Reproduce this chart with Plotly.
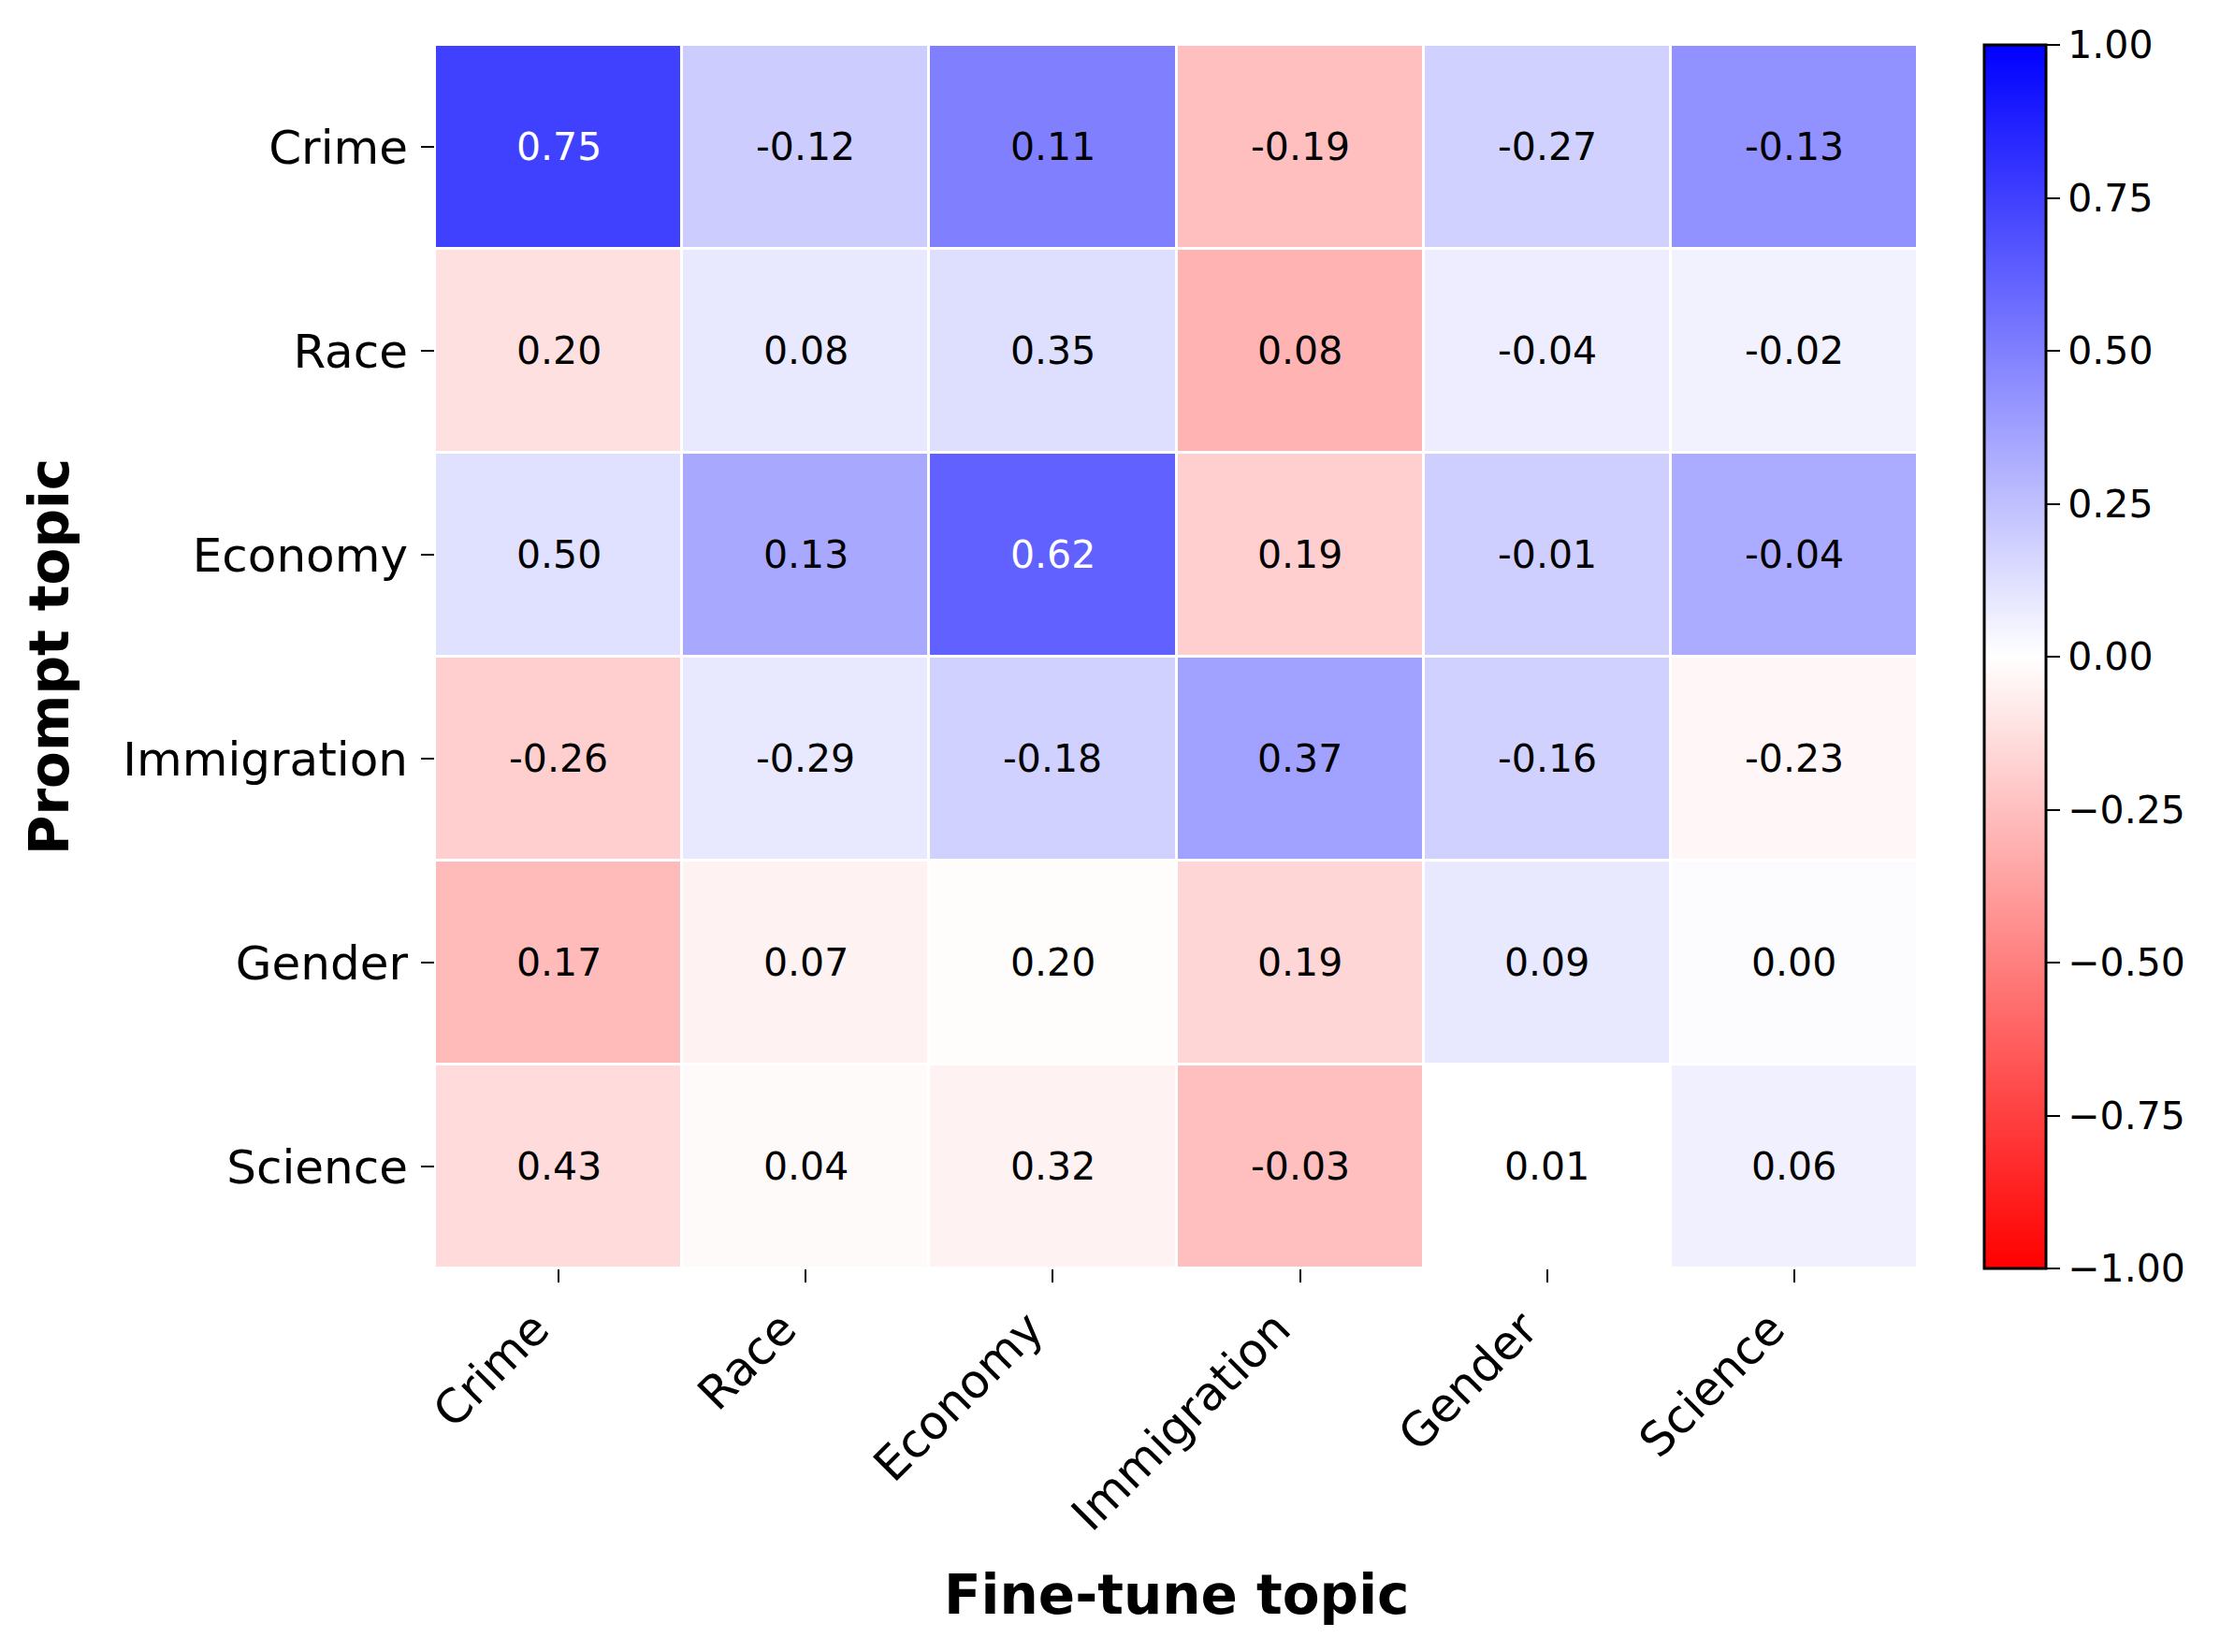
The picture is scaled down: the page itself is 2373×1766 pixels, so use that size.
import plotly.graph_objects as go

topics = ["Crime", "Race", "Economy", "Immigration", "Gender", "Science"]

# Colour values
color_vals = [
    [0.75, 0.20, 0.50, -0.25, 0.18, 0.43],
    [-0.12, 0.09, 0.13, -0.30, 0.07, 0.05],
    [0.12, 0.34, 0.62, -0.19, 0.19, 0.33],
    [-0.19, 0.09, 0.18, 0.37, 0.18, -0.03],
    [-0.27, -0.05, -0.01, -0.16, 0.09, 0.01],
    [-0.14, -0.02, -0.05, -0.25, 0.00, 0.06],
]

# Annotated numbers (as printed in cells)
annot_vals = [
    [0.75, -0.12, 0.11, -0.19, -0.27, -0.13],
    [0.20, 0.08, 0.35, 0.08, -0.04, -0.02],
    [0.50, 0.13, 0.62, 0.19, -0.01, -0.04],
    [-0.26, -0.29, -0.18, 0.37, -0.16, -0.23],
    [0.17, 0.07, 0.20, 0.19, 0.09, 0.00],
    [0.43, 0.04, 0.32, -0.03, 0.01, 0.06],
]

cbar_ticks = [-1.0, -0.75, -0.5, -0.25, 0.0, 0.25, 0.5, 0.75, 1.0]
cbar_ticktext = [("\u2212" if t < 0 else "") + f"{abs(t):.2f}" for t in cbar_ticks]

W, H = 2373, 1766
L, R, T, B = 465, 323, 48, 410
font = "DejaVu Sans"

fig = go.Figure()
fig.add_trace(go.Heatmap(
    z=color_vals, x=topics, y=topics,
    zmin=-1, zmax=1,
    colorscale=[[0, "rgb(255,0,0)"], [0.5, "rgb(255,255,255)"], [1, "rgb(0,0,255)"]],
    xgap=3, ygap=3,
    hoverinfo="skip",
    colorbar=dict(
        x=2121 / W, xanchor="left", xref="container",
        y=0.5, yanchor="middle",
        len=1.0, lenmode="fraction",
        thickness=66, thicknessmode="pixels",
        outlinewidth=3, outlinecolor="black",
        tickmode="array", tickvals=cbar_ticks, ticktext=cbar_ticktext,
        ticks="outside", ticklen=14, tickwidth=2, tickcolor="black",
        tickfont=dict(family=font, size=41, color="black"),
        xpad=0, ypad=0,
    ),
))

annotations = []
for i, row in enumerate(annot_vals):
    for j, v in enumerate(row):
        cv = color_vals[i][j]
        col = "white" if abs(cv) > 0.55 else "black"
        annotations.append(dict(
            x=topics[j], y=topics[i], xref="x", yref="y",
            text=f"{v:.2f}", showarrow=False,
            font=dict(family=font, size=41, color=col),
        ))

pw = W - L - R
ph = H - T - B
annotations.append(dict(
    x=0.5, y=(H - B - 1705) / ph, xref="paper", yref="paper",
    text="<b>Fine-tune topic</b>", showarrow=False,
    font=dict(family=font, size=58, color="black"),
    xanchor="center", yanchor="middle",
))
annotations.append(dict(
    x=(53 - L) / pw, y=0.5, xref="paper", yref="paper",
    text="<b>Prompt topic</b>", showarrow=False, textangle=-90,
    font=dict(family=font, size=58, color="black"),
    xanchor="center", yanchor="middle",
))

fig.update_layout(
    width=W, height=H,
    margin=dict(l=L, r=R, t=T, b=B),
    paper_bgcolor="white", plot_bgcolor="white",
    annotations=annotations,
    xaxis=dict(
        tickangle=-45, ticks="outside", ticklen=14, tickwidth=2, tickcolor="black",
        tickfont=dict(family=font, size=50, color="black"),
        ticklabelshift=-25,
        showgrid=False, zeroline=False, showline=False,
    ),
    yaxis=dict(
        autorange="reversed", ticks="outside", ticklen=14, tickwidth=2, tickcolor="black",
        tickfont=dict(family=font, size=50, color="black"),
        ticklabelstandoff=4,
        showgrid=False, zeroline=False, showline=False,
    ),
)

fig.write_html(
    "out.html",
    config={"displayModeBar": False},
    post_script="document.body.style.margin='0';document.body.style.overflow='hidden';",
)
